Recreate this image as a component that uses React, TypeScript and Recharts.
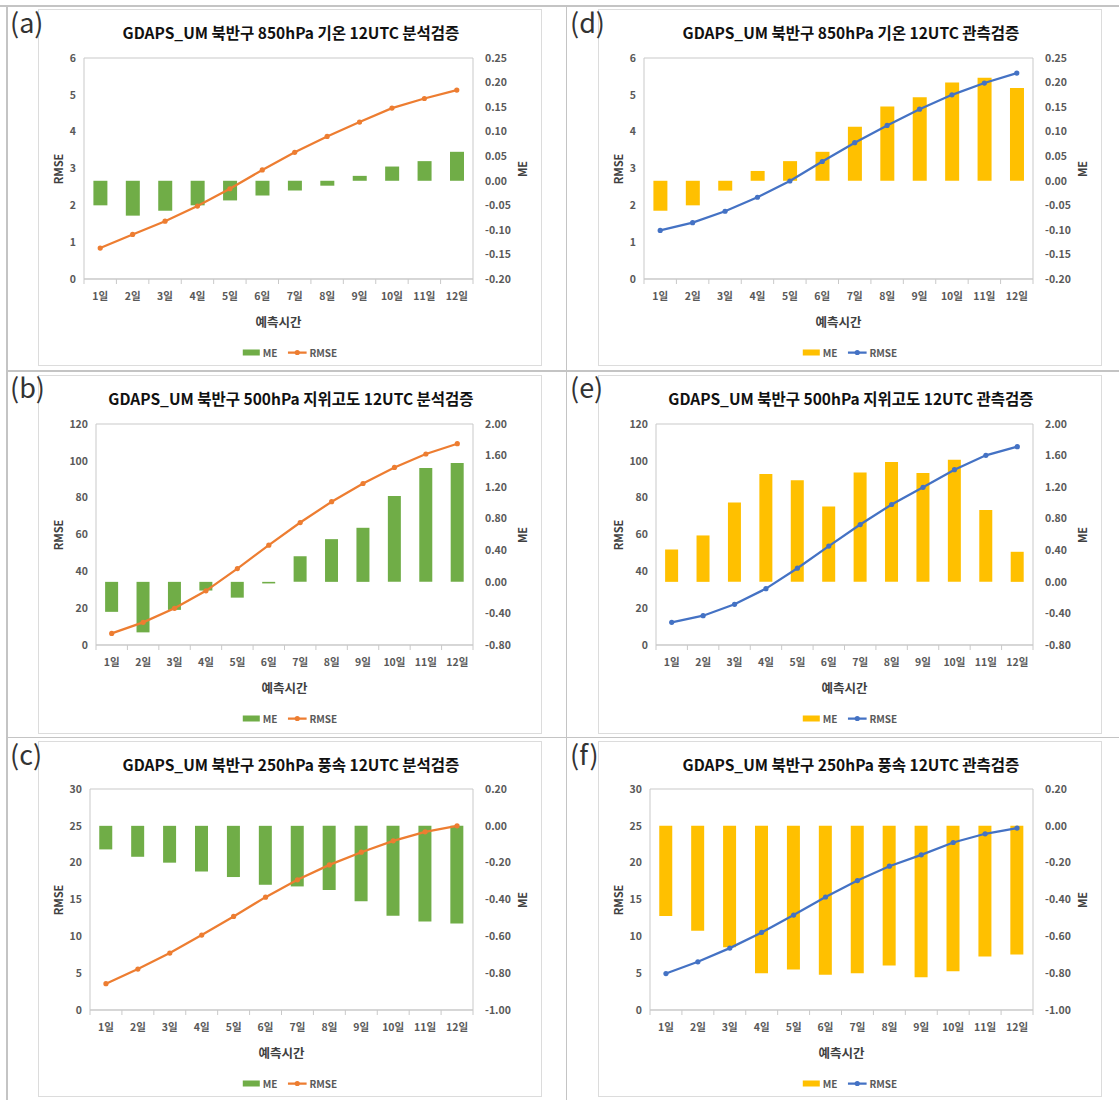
import React from 'react';
import { ComposedChart, Bar, Line, XAxis, YAxis, ReferenceArea } from 'recharts';

const days = ['1일', '2일', '3일', '4일', '5일', '6일', '7일', '8일', '9일', '10일', '11일', '12일'];

const aRmse = [0.84, 1.21, 1.57, 1.98, 2.45, 2.96, 3.44, 3.87, 4.26, 4.64, 4.9, 5.13];
const aMe = [-0.05, -0.071, -0.061, -0.05, -0.04, -0.03, -0.02, -0.01, 0.01, 0.029, 0.04, 0.059];
const dRmse = [1.32, 1.53, 1.84, 2.22, 2.66, 3.19, 3.7, 4.17, 4.61, 5.0, 5.32, 5.59];
const dMe = [-0.061, -0.05, -0.02, 0.02, 0.04, 0.059, 0.11, 0.151, 0.17, 0.2, 0.21, 0.189];
const bRmse = [6.3, 12.3, 19.9, 29.4, 41.5, 54.2, 66.5, 77.8, 87.7, 96.4, 103.7, 109.3];
const bMe = [-0.38, -0.64, -0.355, -0.11, -0.2, -0.02, 0.326, 0.541, 0.685, 1.087, 1.443, 1.506];
const eRmse = [12.3, 15.9, 22.1, 30.6, 41.7, 53.7, 65.4, 76.3, 85.6, 95.2, 103.0, 107.7];
const eMe = [0.41, 0.588, 1.007, 1.366, 1.286, 0.956, 1.387, 1.519, 1.379, 1.548, 0.909, 0.381];
const cRmse = [3.57, 5.56, 7.73, 10.17, 12.7, 15.32, 17.67, 19.7, 21.42, 22.96, 24.18, 25.0];
const cMe = [-0.128, -0.168, -0.2, -0.248, -0.278, -0.32, -0.329, -0.349, -0.41, -0.488, -0.519, -0.53];
const fRmse = [4.95, 6.54, 8.4, 10.53, 12.89, 15.34, 17.57, 19.52, 21.06, 22.74, 23.92, 24.69];
const fMe = [-0.49, -0.57, -0.659, -0.8, -0.78, -0.808, -0.8, -0.759, -0.822, -0.79, -0.71, -0.699];

const leftTicksA = [0, 1, 2, 3, 4, 5, 6];
const rightTicksA = [-0.2, -0.15, -0.1, -0.05, 0, 0.05, 0.1, 0.15, 0.2, 0.25];
const leftTicksB = [0, 20, 40, 60, 80, 100, 120];
const rightTicksB = [-0.8, -0.4, 0, 0.4, 0.8, 1.2, 1.6, 2.0];
const leftTicksC = [0, 5, 10, 15, 20, 25, 30];
const rightTicksC = [-1.0, -0.8, -0.6, -0.4, -0.2, 0, 0.2];

const titleA = 'GDAPS_UM 북반구 850hPa 기온 12UTC 분석검증';
const titleB = 'GDAPS_UM 북반구 500hPa 지위고도 12UTC 분석검증';
const titleC = 'GDAPS_UM 북반구 250hPa 풍속 12UTC 분석검증';
const titleD = 'GDAPS_UM 북반구 850hPa 기온 12UTC 관측검증';
const titleE = 'GDAPS_UM 북반구 500hPa 지위고도 12UTC 관측검증';
const titleF = 'GDAPS_UM 북반구 250hPa 풍속 12UTC 관측검증';

const xTitle = '예측시간';
const leftTitle = 'RMSE';
const rightTitle = 'ME';

const GREEN = '#70AD47';
const ORANGE = '#ED7D31';
const YELLOW = '#FFC000';
const BLUE = '#4472C4';

const FONT = "'Noto Sans CJK KR', 'Noto Sans', sans-serif";
const TICK_COLOR = '#595959';
const BORDER = '#c9c9c9';

type RowLayout = { line: number; frameY: number; frameH: number; plotL: number; plotT: number; plotB: number };

const ROWS: RowLayout[] = [
  { line: 5, frameY: 9, frameH: 357, plotL: 46, plotT: 49, plotB: 270 },
  { line: 370, frameY: 375, frameH: 359, plotL: 58, plotT: 49, plotB: 270 },
  { line: 737, frameY: 741, frameH: 356, plotL: 52, plotT: 48, plotB: 269 },
];
const FRAME_X = 38;
const FRAME_W = 504;
const PLOT_R = 435;
const COL_SHIFT = 560;

type PanelProps = {
  letter: string;
  title: string;
  rmse: number[];
  me: number[];
  leftTicks: number[];
  rightTicks: number[];
  barColor: string;
  lineColor: string;
  row: number;
  col: number;
};

function Panel(p: PanelProps) {
  const L = ROWS[p.row];
  const ox = FRAME_X + p.col * COL_SHIFT;
  const oy = L.frameY;
  const data = days.map((d, i) => ({ day: d, me: p.me[i], rmse: p.rmse[i] }));
  const band = (PLOT_R - L.plotL) / days.length;
  const plotMidY = (L.plotT + L.plotB) / 2;
  const plotMidX = (L.plotL + PLOT_R) / 2;

  const XTick = (props: any) => {
    const { x, y, payload, index } = props;
    return (
      <g>
        <line x1={x - band / 2} x2={x - band / 2} y1={y} y2={y + 5} stroke={BORDER} />
        {index === days.length - 1 && (
          <line x1={x + band / 2} x2={x + band / 2} y1={y} y2={y + 5} stroke={BORDER} />
        )}
        <text x={x} y={y + 21} textAnchor="middle" fill={TICK_COLOR} fontSize={10.5} fontWeight={700} fontFamily={FONT}>
          {payload.value}
        </text>
      </g>
    );
  };

  return (
    <>
      <div
        style={{
          position: 'absolute',
          left: 10 + p.col * COL_SHIFT,
          top: L.line + 3,
          fontSize: 27,
          lineHeight: 1,
          fontFamily: FONT,
          color: '#333',
          zIndex: 2,
        }}
      >
        {p.letter}
      </div>
      <div
        style={{
          position: 'absolute',
          left: ox,
          top: oy,
          width: FRAME_W,
          height: L.frameH,
          boxSizing: 'border-box',
          border: '1px solid #dcdcdc',
          background: '#fff',
        }}
      >
        <div style={{ position: 'absolute', left: -1, top: -1 }}>
          <ComposedChart
            width={FRAME_W}
            height={L.frameH}
            data={data}
            margin={{ top: L.plotT, right: 0, left: 0, bottom: 0 }}
            barCategoryGap="29%"
          >
            <XAxis
              xAxisId="x"
              dataKey="day"
              height={L.frameH - L.plotB}
              interval={0}
              tickSize={0}
              tickMargin={0}
              tickLine={false}
              axisLine={{ stroke: BORDER }}
              tick={XTick}
            />
            <YAxis
              yAxisId="left"
              orientation="left"
              width={L.plotL}
              domain={[p.leftTicks[0], p.leftTicks[p.leftTicks.length - 1]]}
              ticks={p.leftTicks}
              interval={0}
              tickSize={0}
              tickMargin={8}
              tickLine={false}
              axisLine={false}
              tick={{ fill: TICK_COLOR, fontSize: 10.5, fontWeight: 700, fontFamily: FONT }}
            />
            <YAxis
              yAxisId="right"
              orientation="right"
              width={FRAME_W - PLOT_R}
              domain={[p.rightTicks[0], p.rightTicks[p.rightTicks.length - 1]]}
              ticks={p.rightTicks}
              interval={0}
              tickSize={0}
              tickMargin={12}
              tickLine={false}
              axisLine={false}
              tickFormatter={(v: number) => v.toFixed(2)}
              tick={{ fill: TICK_COLOR, fontSize: 10.5, fontWeight: 700, fontFamily: FONT }}
            />
            <ReferenceArea
              xAxisId="x"
              yAxisId="left"
              y1={p.leftTicks[0]}
              y2={p.leftTicks[p.leftTicks.length - 1]}
              fill="none"
              stroke={BORDER}
              strokeWidth={1}
            />
            <Bar xAxisId="x" yAxisId="right" dataKey="me" fill={p.barColor} isAnimationActive={false} />
            <Line
              xAxisId="x"
              yAxisId="left"
              dataKey="rmse"
              type="linear"
              stroke={p.lineColor}
              strokeWidth={2.25}
              dot={{ r: 2.6, fill: p.lineColor, stroke: p.lineColor, strokeWidth: 0 }}
              activeDot={false}
              isAnimationActive={false}
            />
          </ComposedChart>
        </div>
        <div
          style={{
            position: 'absolute',
            left: 0,
            width: FRAME_W,
            top: 23 - 1,
            transform: 'translateY(-50%)',
            textAlign: 'center',
            fontFamily: FONT,
            fontWeight: 700,
            fontSize: 15.5,
            color: '#111',
            whiteSpace: 'nowrap',
          }}
        >
          {p.title}
        </div>
        <div
          style={{
            position: 'absolute',
            left: plotMidX - 1,
            top: L.plotB + 42 - 1,
            transform: 'translate(-50%, -50%)',
            fontFamily: FONT,
            fontWeight: 700,
            fontSize: 12.5,
            color: '#404040',
            whiteSpace: 'nowrap',
          }}
        >
          {xTitle}
        </div>
        <div
          style={{
            position: 'absolute',
            left: 20 - 1,
            top: plotMidY - 1,
            transform: 'translate(-50%, -50%) rotate(-90deg)',
            fontFamily: FONT,
            fontWeight: 700,
            fontSize: 11,
            color: '#404040',
            whiteSpace: 'nowrap',
          }}
        >
          {leftTitle}
        </div>
        <div
          style={{
            position: 'absolute',
            left: 484 - 1,
            top: plotMidY - 1,
            transform: 'translate(-50%, -50%) rotate(-90deg)',
            fontFamily: FONT,
            fontWeight: 700,
            fontSize: 11,
            color: '#404040',
            whiteSpace: 'nowrap',
          }}
        >
          {rightTitle}
        </div>
        <div
          style={{
            position: 'absolute',
            left: 252 - 1,
            top: L.plotB + 73 - 1,
            transform: 'translate(-50%, -50%)',
            display: 'flex',
            alignItems: 'center',
            fontFamily: FONT,
            fontWeight: 700,
            fontSize: 10,
            color: TICK_COLOR,
            whiteSpace: 'nowrap',
          }}
        >
          <span style={{ display: 'inline-block', width: 17, height: 6, background: p.barColor, marginRight: 3 }} />
          <span style={{ marginRight: 10 }}>ME</span>
          <svg width={19} height={8} style={{ marginRight: 3 }}>
            <line x1={0} x2={19} y1={4} y2={4} stroke={p.lineColor} strokeWidth={2.25} />
            <circle cx={9.5} cy={4} r={2.6} fill={p.lineColor} />
          </svg>
          <span>RMSE</span>
        </div>
      </div>
    </>
  );
}

export default function App() {
  const gridLine = '#c4c4c4';
  return (
    <div style={{ position: 'absolute', left: 0, top: 0, width: 1119, height: 1100, background: '#fff', overflow: 'hidden' }}>
      <div style={{ position: 'absolute', left: 0, top: 5, width: 1119, height: 1.5, background: gridLine }} />
      <div style={{ position: 'absolute', left: 6, top: 370, width: 1113, height: 1.5, background: gridLine }} />
      <div style={{ position: 'absolute', left: 6, top: 736.5, width: 1113, height: 1.5, background: gridLine }} />
      <div style={{ position: 'absolute', left: 6, top: 5, width: 1.5, height: 1095, background: gridLine }} />
      <div style={{ position: 'absolute', left: 565.5, top: 5, width: 1.5, height: 1095, background: gridLine }} />

      <Panel letter="(a)" title={titleA} rmse={aRmse} me={aMe} leftTicks={leftTicksA} rightTicks={rightTicksA} barColor={GREEN} lineColor={ORANGE} row={0} col={0} />
      <Panel letter="(b)" title={titleB} rmse={bRmse} me={bMe} leftTicks={leftTicksB} rightTicks={rightTicksB} barColor={GREEN} lineColor={ORANGE} row={1} col={0} />
      <Panel letter="(c)" title={titleC} rmse={cRmse} me={cMe} leftTicks={leftTicksC} rightTicks={rightTicksC} barColor={GREEN} lineColor={ORANGE} row={2} col={0} />
      <Panel letter="(d)" title={titleD} rmse={dRmse} me={dMe} leftTicks={leftTicksA} rightTicks={rightTicksA} barColor={YELLOW} lineColor={BLUE} row={0} col={1} />
      <Panel letter="(e)" title={titleE} rmse={eRmse} me={eMe} leftTicks={leftTicksB} rightTicks={rightTicksB} barColor={YELLOW} lineColor={BLUE} row={1} col={1} />
      <Panel letter="(f)" title={titleF} rmse={fRmse} me={fMe} leftTicks={leftTicksC} rightTicks={rightTicksC} barColor={YELLOW} lineColor={BLUE} row={2} col={1} />
    </div>
  );
}
